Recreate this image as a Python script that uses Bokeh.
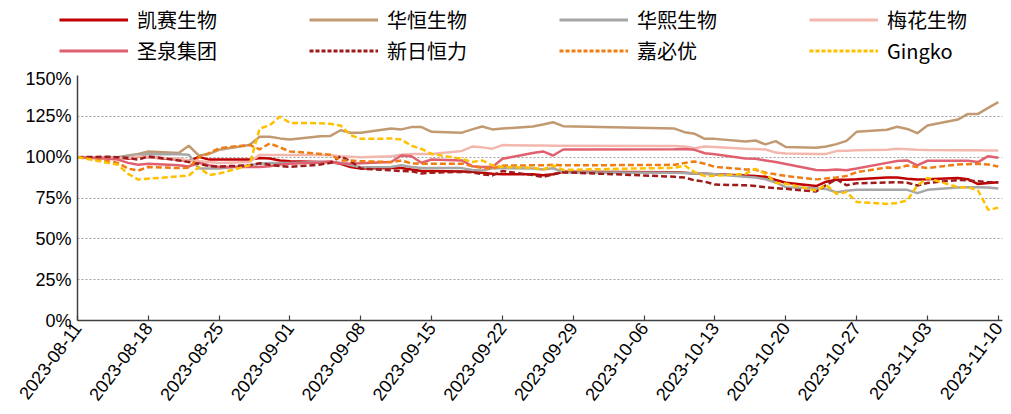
import pandas as pd
from bokeh.plotting import figure
from bokeh.models import (Range1d, FixedTicker, DatetimeTickFormatter, PrintfTickFormatter,
                          Legend, LegendItem, ColumnDataSource)
from bokeh.embed import file_html
from bokeh.resources import INLINE
import math

dates = [
    "2023-08-11",
    "2023-08-14", "2023-08-15", "2023-08-16", "2023-08-17", "2023-08-18",
    "2023-08-21", "2023-08-22", "2023-08-23", "2023-08-24", "2023-08-25",
    "2023-08-28", "2023-08-29", "2023-08-30", "2023-08-31", "2023-09-01",
    "2023-09-04", "2023-09-05", "2023-09-06", "2023-09-07", "2023-09-08",
    "2023-09-11", "2023-09-12", "2023-09-13", "2023-09-14", "2023-09-15",
    "2023-09-18", "2023-09-19", "2023-09-20", "2023-09-21", "2023-09-22",
    "2023-09-25", "2023-09-26", "2023-09-27", "2023-09-28",
    "2023-10-09", "2023-10-10", "2023-10-11", "2023-10-12", "2023-10-13",
    "2023-10-16", "2023-10-17", "2023-10-18", "2023-10-19", "2023-10-20",
    "2023-10-23", "2023-10-24", "2023-10-25", "2023-10-26", "2023-10-27",
    "2023-10-30", "2023-10-31", "2023-11-01", "2023-11-02", "2023-11-03",
    "2023-11-06", "2023-11-07", "2023-11-08", "2023-11-09", "2023-11-10",
]

kaisai = [100, 100, 99.5, 99, 100.5, 100, 98.5, 97.5, 100.2, 98.5, 98.5,
          98.5, 99.5, 99.2, 98, 97.5, 97, 97, 96, 94, 93,
          93.3, 93.3, 92.5, 91.5, 91.5, 91.2, 91, 90.5, 89.8, 89.5,
          89.5, 89, 89.5, 91, 90.8, 90.5, 90, 89.8, 89.5,
          88.8, 88.5, 88, 86, 84.3, 82.3, 85, 86.2, 86.2, 86.5,
          87.5, 87.5, 86.8, 86.3, 86.5, 87.2, 86.5, 83.5, 84.2, 84.7]

huaheng = [100, 100, 100, 101, 102, 103.5, 102.5, 107, 101, 102, 104.5,
           107.5, 112.5, 112.5, 111.5, 110.8, 112.8, 113, 116.5, 115, 115,
           117.5, 117, 118.4, 118.4, 115.5, 115, 117, 118.8, 117, 117.5,
           118.8, 120, 121.4, 119, 117.5, 115.3, 114.3, 111.2, 111.2,
           109.6, 110.2, 107.8, 109.8, 106.2, 105.8, 106.5, 108, 110, 115.5,
           116.8, 118.6, 117.3, 114.7, 119.4, 123, 126.5, 126.5, 130.2, 133.7]

huaxi = [100, 100, 100, 100.5, 101.5, 102, 101.8, 101.5, 93, 93, 93,
         95, 96, 96.5, 96.5, 96.5, 97, 97, 96.5, 95, 93.8,
         94, 95, 94, 93.3, 93.3, 93.3, 92.2, 91.8, 93.2, 93.2,
         93, 92.4, 93.2, 90.8, 90.5, 90.3, 90, 89.8, 89.5,
         88, 87.5, 86.5, 84.5, 81.6, 81, 80.5, 78.5, 79.5, 80,
         80, 80, 80, 78, 80, 81.5, 81.6, 81.6, 81.5, 80.8]

meihua = [100, 99.5, 99, 99.5, 100.5, 100, 99, 98, 97.5, 97, 96.5,
          97, 101.4, 101.4, 101.4, 101.4, 101.4, 101.2, 100.6, 100.3, 100,
          100.5, 101.5, 102, 102, 102, 103.8, 106.5, 106, 105.2, 107.4,
          107.2, 107.2, 107, 107, 106.8, 106.5, 105.5, 106.5, 106.2,
          105.2, 105, 104.7, 102.8, 102.2, 102, 102, 103.7, 104, 104.2,
          104.6, 105.1, 104.8, 104.5, 104.4, 104.3, 104.2, 104.3, 104.1, 104.1]

shengquan = [100, 99, 98.5, 96.5, 95.3, 96, 95, 94.3, 96.5, 95, 94,
             94, 94, 94.5, 95.5, 96, 96.8, 97.3, 96.3, 96, 96.3,
             97, 101, 100.6, 96.6, 98.6, 98, 94.5, 94, 94, 99,
             102.5, 103.5, 101, 104.7, 104.8, 105, 104.5, 102.4, 101.8,
             99.2, 99, 98, 97, 95.8, 92.2, 92, 92.5, 92, 93,
             96.5, 97.6, 98, 95, 97.8, 97.8, 97.8, 97, 100.6, 99.6]

xinri = [100, 100.3, 100, 99.5, 98.5, 100.5, 98, 97, 96, 94.5, 94.3,
         95, 96.3, 95.3, 94.5, 94, 95.5, 96.5, 100.5, 97.5, 93,
         92, 91.5, 91.4, 90, 90.5, 91, 90.8, 89.5, 88.8, 91.5,
         89, 87.8, 89.5, 90.8, 88, 87.5, 85.8, 85, 83.2,
         82.8, 82.4, 81.6, 81, 80.6, 79, 83, 86.5, 82.8, 84,
         84.5, 84.7, 84.3, 82.7, 84.2, 86, 85.8, 85.3, 84.7, 84.7]

jiabiyou = [100, 97.5, 96.5, 93, 91.8, 94, 93.3, 93.5, 100, 102.5, 105.5,
            107.5, 104.8, 108.4, 106, 103.5, 102, 101.5, 98, 98, 97.5,
            97, 98, 96.2, 96, 96, 96, 94.5, 93.5, 93, 94.8,
            95, 95, 95.3, 95, 95.3, 96.5, 97.3, 96, 94,
            92.5, 92.3, 90.5, 89.5, 88.5, 86.4, 87, 87.6, 88.5, 90.8,
            93.7, 93.3, 94.9, 94, 93.4, 95.5, 95.7, 95.9, 95.5, 94.3]

gingko = [100, 96.5, 95.3, 89.8, 86.3, 86.8, 88.3, 88.8, 94, 89, 90,
          95, 117.5, 119.5, 124.8, 121, 120.8, 120.4, 119.4, 113.5, 111.2,
          111.4, 110.8, 107, 105, 102, 99, 97, 98, 95, 94,
          93.5, 92.4, 94.9, 92.2, 93.5, 94.9, 90.8, 88.4, 88.6,
          89.8, 92.9, 89.8, 84.3, 83.7, 79.6, 83, 77.6, 78.6, 72.6,
          71.4, 72, 73.5, 82.7, 87.3, 81.6, 81.6, 79.6, 67.8, 69]

tick_labels = ["2023-08-11", "2023-08-18", "2023-08-25", "2023-09-01", "2023-09-08",
               "2023-09-15", "2023-09-22", "2023-09-29", "2023-10-06", "2023-10-13",
               "2023-10-20", "2023-10-27", "2023-11-03", "2023-11-10"]
y_ticks = [0, 25, 50, 75, 100, 125, 150]

series = [
    ("凯赛生物", kaisai, "#C00000", None),
    ("华恒生物", huaheng, "#C19A72", None),
    ("华熙生物", huaxi, "#A6A6A6", None),
    ("梅花生物", meihua, "#F2B8AE", None),
    ("圣泉集团", shengquan, "#E0606F", None),
    ("新日恒力", xinri, "#9E1B1B", "6 3"),
    ("嘉必优", jiabiyou, "#F07C14", "6 3"),
    ("Gingko", gingko, "#FFC000", "6 3"),
]

x = pd.to_datetime(dates)
start = pd.Timestamp("2023-08-11")
end = pd.Timestamp("2023-11-10") + pd.Timedelta(hours=10)

# ---------- main chart ----------
p = figure(x_axis_type="datetime", output_backend="svg", toolbar_location=None,
           frame_width=925, frame_height=245,
           min_border_left=77, min_border_top=7, min_border_right=9, min_border_bottom=90,
           x_range=Range1d(start, end), y_range=Range1d(0, 150))
p.outline_line_color = None

# ---------- legend strip (separate root, its frame spans the whole width) ----------
leg = figure(x_axis_type="datetime", output_backend="svg", toolbar_location=None,
             width=1011, height=68,
             x_range=Range1d(start, end), y_range=Range1d(1000, 1001),
             x_axis_location=None, y_axis_location=None, min_border=0)
leg.outline_line_color = None
leg.xgrid.visible = False
leg.ygrid.visible = False

items = []
for name, vals, color, dash in series:
    src = ColumnDataSource(dict(x=x, y=vals))
    kw = dict(line_width=2.5, line_color=color)
    if dash:
        kw["line_dash"] = dash
    p.line("x", "y", source=src, **kw)
    lkw = dict(line_width=3, line_color=color)
    if dash:
        lkw["line_dash"] = "4 2"
    r = leg.line("x", "y", source=src, **lkw)
    items.append(LegendItem(label=name, renderers=[r]))

tick_ms = [pd.Timestamp(t).value // 10**6 for t in tick_labels]
p.xaxis.ticker = FixedTicker(ticks=tick_ms)
fmt = "%Y-%m-%d"
p.xaxis.formatter = DatetimeTickFormatter(days=fmt, months=fmt, years=fmt, hours=fmt,
                                          minutes=fmt, seconds=fmt, milliseconds=fmt,
                                          minsec=fmt, hourmin=fmt)
p.xaxis.major_label_orientation = math.radians(53)
p.xaxis.major_tick_in = 5
p.xaxis.major_tick_out = 0
p.xaxis.minor_tick_line_color = None
p.xaxis.major_label_text_font = "Liberation Sans"
p.xaxis.major_label_text_font_size = "18px"
p.xaxis.major_label_text_color = "#000000"
p.xaxis.major_label_standoff = 4

p.yaxis.ticker = FixedTicker(ticks=y_ticks)
p.yaxis.formatter = PrintfTickFormatter(format="%d%%")
p.yaxis.major_tick_in = 0
p.yaxis.major_tick_out = 0
p.yaxis.minor_tick_line_color = None
p.yaxis.major_label_text_font = "Liberation Sans"
p.yaxis.major_label_text_font_size = "18px"
p.yaxis.major_label_text_color = "#000000"
p.yaxis.major_label_standoff = 6

for ax in (p.xaxis, p.yaxis):
    ax.axis_line_color = "#404040"
    ax.axis_line_width = 1.5
    ax.major_tick_line_color = "#404040"
    ax.major_tick_line_width = 1.2

p.xgrid.visible = False
p.ygrid.grid_line_color = "#A0A0A0"
p.ygrid.grid_line_dash = "2 2"
p.ygrid.grid_line_width = 1

legend = Legend(items=items, orientation="horizontal", ncols=4,
                location=(59, 2), padding=0, margin=0, spacing=0,
                glyph_width=69, glyph_height=31, label_height=31, label_width=172,
                label_standoff=9, border_line_color=None, background_fill_alpha=0,
                label_text_font="Noto Sans CJK SC", label_text_font_size="20px",
                label_text_color="#000000")
leg.add_layout(legend, "center")

open("out.html", "w").write(file_html([leg, p], INLINE))
